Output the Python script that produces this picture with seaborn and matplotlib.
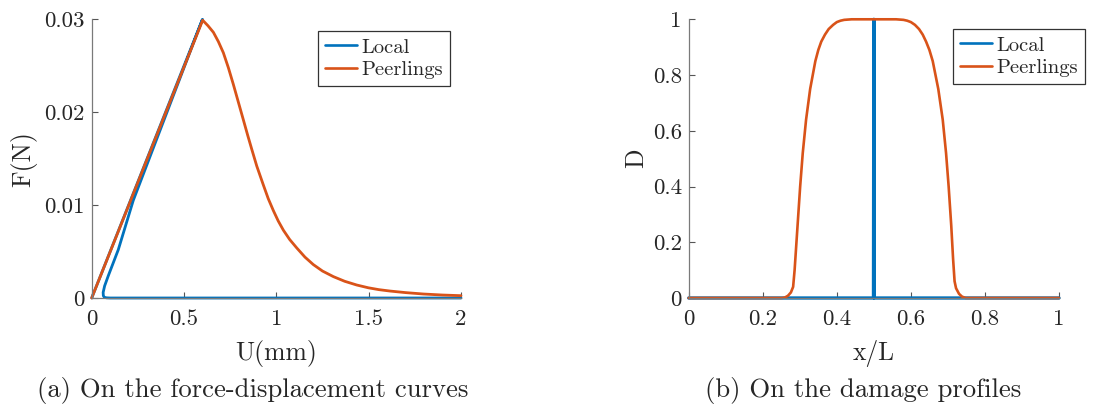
import numpy as np
import pandas as pd
import seaborn as sns
import matplotlib
matplotlib.use("Agg")
import matplotlib.pyplot as plt

# ---- force-displacement data ----
u_local = [0.0, 0.6, 0.40, 0.225, 0.144, 0.09, 0.07, 0.062, 0.063, 0.068, 0.08, 0.10, 2.0]
f_local = [0.0, 0.030, 0.0196, 0.0105, 0.0052, 0.0024, 0.0013, 0.0006, 0.00025, 0.00008, 0.00002, 0.0, 0.0]

u_peer = [0.0, 0.601, 0.630, 0.659, 0.686, 0.713, 0.740, 0.767, 0.794, 0.821, 0.845,
          0.867, 0.894, 0.929, 0.956, 0.984, 1.010, 1.038, 1.072, 1.110, 1.155, 1.200,
          1.250, 1.309, 1.370, 1.435, 1.498, 1.555, 1.615, 1.700, 1.796, 1.900, 2.0]
f_peer = [0.0, 0.0299, 0.0293, 0.0286, 0.0276, 0.0264, 0.0248, 0.0230, 0.0211, 0.0192, 0.0175,
          0.0160, 0.0142, 0.0122, 0.0107, 0.0094, 0.0083, 0.0073, 0.0063, 0.0054, 0.0044, 0.0036,
          0.0029, 0.0023, 0.0018, 0.0014, 0.0011, 0.0009, 0.00075, 0.00058, 0.00043, 0.00032, 0.00025]

# ---- damage profile data ----
x_local = [0.0, 0.499, 0.5, 0.501, 1.0]
d_local = [0.0, 0.0, 1.0, 0.0, 0.0]

x_peer = [0.0, 0.252, 0.260, 0.268, 0.276, 0.282, 0.286, 0.290, 0.295, 0.301, 0.308,
          0.317, 0.328, 0.342, 0.350, 0.358, 0.368, 0.378, 0.390, 0.400, 0.410, 0.420,
          0.440, 0.560, 0.580, 0.590, 0.600, 0.611, 0.622, 0.632, 0.641, 0.650, 0.659,
          0.674, 0.686, 0.695, 0.702, 0.709, 0.714, 0.718, 0.722, 0.730, 0.738, 0.748, 1.0]
d_peer = [0.0, 0.0, 0.002, 0.008, 0.020, 0.040, 0.10, 0.18, 0.28, 0.40, 0.52,
          0.64, 0.75, 0.85, 0.89, 0.92, 0.945, 0.965, 0.980, 0.990, 0.995, 0.998,
          1.0, 1.0, 0.998, 0.995, 0.990, 0.980, 0.965, 0.945, 0.92, 0.89, 0.85,
          0.75, 0.64, 0.52, 0.40, 0.26, 0.14, 0.06, 0.035, 0.015, 0.005, 0.0, 0.0]

series_names = ["Local", "Peerlings"]
blue, orange = "#0072BD", "#D95319"

sns.set_theme(style="white")
plt.rcParams["font.family"] = ["cmr10"]
plt.rcParams["axes.formatter.use_mathtext"] = True
plt.rcParams["mathtext.fontset"] = "cm"

W, H = 1096, 417
fig = plt.figure(figsize=(W / 100, H / 100), dpi=100)
ax1 = fig.add_axes([91.7 / W, 1 - 298 / H, (461 - 91.7) / W, (298 - 19.3) / H])
ax2 = fig.add_axes([688.7 / W, 1 - 298 / H, (1059 - 688.7) / W, (298 - 19.3) / H])

tick_fs = 16.5
label_fs = 18.4
legend_fs = 14.8
caption_fs = 19.2


def draw(ax, xs, ys, colors, widths):
    for name, x, y, c, lw in zip(series_names, xs, ys, colors, widths):
        df = pd.DataFrame({"x": x, "y": y})
        sns.lineplot(data=df, x="x", y="y", ax=ax, sort=False, estimator=None,
                     color=c, linewidth=lw, label=name, clip_on=False)


draw(ax1, [u_local, u_peer], [f_local, f_peer], [blue, orange], [2.0, 2.0])
draw(ax2, [x_local, x_peer], [d_local, d_peer], [blue, orange], [2.4, 1.9])

ax1.set_xlim(0, 2)
ax1.set_ylim(0, 0.03)
ax1.set_xticks([0, 0.5, 1, 1.5, 2])
ax1.set_xticklabels(["0", "0.5", "1", "1.5", "2"])
ax1.set_yticks([0, 0.01, 0.02, 0.03])
ax1.set_yticklabels(["0", "0.01", "0.02", "0.03"])
ax1.set_xlabel("U(mm)", fontsize=label_fs, labelpad=8)
ax1.set_ylabel("F(N)", fontsize=label_fs, labelpad=5)

ax2.set_xlim(0, 1)
ax2.set_ylim(0, 1)
ticks = [0, 0.2, 0.4, 0.6, 0.8, 1]
ax2.set_xticks(ticks)
ax2.set_xticklabels(["0", "0.2", "0.4", "0.6", "0.8", "1"])
ax2.set_yticks(ticks)
ax2.set_yticklabels(["0", "0.2", "0.4", "0.6", "0.8", "1"])
ax2.set_xlabel("x/L", fontsize=label_fs, labelpad=8)
ax2.set_ylabel("D", fontsize=label_fs, labelpad=3)

for ax in (ax1, ax2):
    for side in ("top", "right"):
        ax.spines[side].set_visible(False)
    for side in ("left", "bottom"):
        ax.spines[side].set_color("#7a7a7a")
        ax.spines[side].set_linewidth(0.9)
    ax.tick_params(direction="in", length=4, width=0.8, color="#555555",
                   labelsize=tick_fs, labelcolor="#262626",
                   left=True, bottom=True)
    ax.tick_params(axis="x", pad=8)
    ax.tick_params(axis="y", pad=5)
    ax.xaxis.label.set_color("#262626")
    ax.yaxis.label.set_color("#262626")

legend_kw = dict(fontsize=legend_fs, frameon=True, fancybox=False, framealpha=1,
                 edgecolor="#333333", handlelength=1.55, handletextpad=0.2,
                 borderpad=0.35, labelspacing=0.2, borderaxespad=0, loc="upper left")
leg1 = ax1.legend(bbox_to_anchor=((318 - 91.7) / (461 - 91.7), 1 - (31 - 19.3) / (298 - 19.3)),
                  **legend_kw)
leg2 = ax2.legend(bbox_to_anchor=((952.7 - 688.7) / (1059 - 688.7), 1 - (29 - 19.3) / (298 - 19.3)),
                  **legend_kw)
for leg in (leg1, leg2):
    leg.get_frame().set_linewidth(0.9)
    for handle in leg.get_lines():
        handle.set_linewidth(1.9)

fig.text(252.5 / W, 1 - 391 / H, "(a) On the force-displacement curves",
         ha="center", va="center", fontsize=caption_fs, color="#262626")
fig.text(863.5 / W, 1 - 391 / H, "(b) On the damage profiles",
         ha="center", va="center", fontsize=caption_fs, color="#262626")

fig.savefig("out.png", dpi=100, facecolor="white")
